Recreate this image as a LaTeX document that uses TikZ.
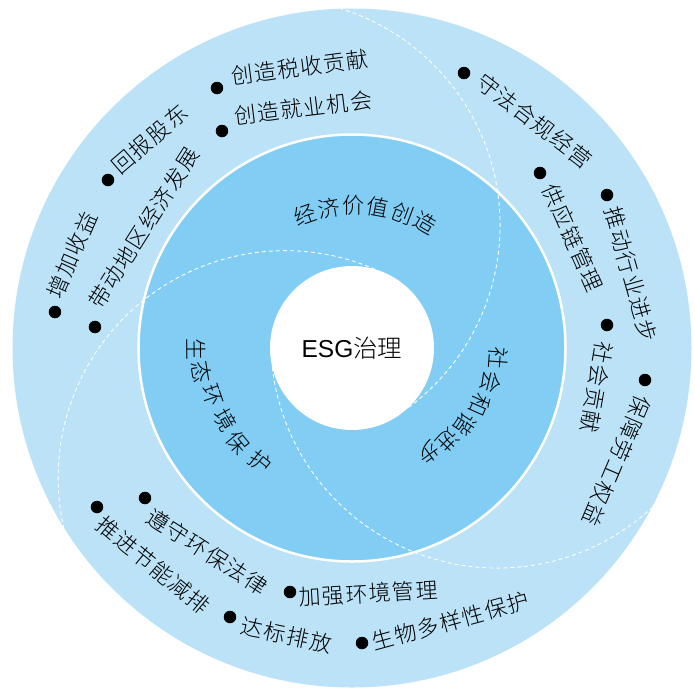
\documentclass[tikz,border=0pt]{standalone}
\usepackage{fontspec}
\setmainfont{Noto Sans CJK SC}[UprightFont=* Light]
\newfontfamily\cjkspaced{Noto Sans CJK SC}[UprightFont=* Light, LetterSpace=6]
\newfontfamily\latinfont{Liberation Sans}
\definecolor{ringout}{RGB}{187,226,247}
\definecolor{ringmid}{RGB}{129,205,244}

\begin{document}
\begin{tikzpicture}[x=1pt, y=1pt,
   point/.style={circle, fill=black, minimum size=12.5pt, inner sep=0pt},
   item/.style={font=\cjkspaced\fontsize{22}{26}\selectfont, inner sep=0pt, anchor=west},
   ringchar/.style={font=\fontsize{22}{26}\selectfont, inner sep=0pt},
   swirl/.style={white, dash pattern=on 4pt off 3pt, line width=0.9pt}]
   \useasboundingbox (-352,-341) rectangle (343,348);
   % rings
   \node[circle, fill=ringout, minimum size=679pt] (outer) at (0,0) {};
   \node[circle, draw=white, line width=2.5pt, fill=ringmid, minimum size=427pt] (middle) at (0,0) {};
   \draw[swirl] (193.5:82pt) arc[start angle=186.6, end angle=312.7, radius=227pt];
   \draw[swirl] (313.5:82pt) arc[start angle=306.6, end angle=432.7, radius=227pt];
   \draw[swirl] (73.5:82pt) arc[start angle=66.6, end angle=192.7, radius=227pt];
   \node[circle, fill=white, minimum size=164pt, font=\fontsize{24.5}{28}\selectfont] (core) at (0,0) {{\latinfont ESG}治理};
   % middle ring
   \node[ringchar, rotate=19.5] (econ1) at (109.5:141pt) {经};
   \node[ringchar, rotate=9.5] (econ2) at (99.5:142pt) {济};
   \node[ringchar, rotate=-0.5] (econ3) at (89.5:143pt) {价};
   \node[ringchar, rotate=-10.5] (econ4) at (79.5:143pt) {值};
   \node[ringchar, rotate=-20.5] (econ5) at (69.5:144pt) {创};
   \node[ringchar, rotate=-30.5] (econ6) at (59.5:145pt) {造};
   \node[ringchar, rotate=-94] (soc1) at (-4:146.5pt) {社};
   \node[ringchar, rotate=-104] (soc2) at (-14:143.2pt) {会};
   \node[ringchar, rotate=-114] (soc3) at (-24:139.9pt) {和};
   \node[ringchar, rotate=-124] (soc4) at (-34:136.6pt) {谐};
   \node[ringchar, rotate=-134] (soc5) at (-44:133.3pt) {进};
   \node[ringchar, rotate=-144] (soc6) at (-54:130pt) {步};
   \node[ringchar, rotate=-89.5] (env1) at (180.5:156pt) {生};
   \node[ringchar, rotate=-81] (env2) at (189:152pt) {态};
   \node[ringchar, rotate=-71.4] (env3) at (198.6:147.5pt) {环};
   \node[ringchar, rotate=-60.4] (env4) at (209.6:146pt) {境};
   \node[ringchar, rotate=-50.2] (env5) at (219.8:148pt) {保};
   \node[ringchar, rotate=-38.9] (env6) at (231.1:146.5pt) {护};
   % outer ring
   \node[point] (b_tax) at (-135,260) {};
   \node[item, rotate=7.4] (tax) at (-120.9,271.6) {创造税收贡献};
   \node[point] (b_jobs) at (-130,217) {};
   \node[item, rotate=7] (jobs) at (-117.9,231.7) {创造就业机会};
   \node[point] (b_holders) at (-244,168) {};
   \node[item, rotate=40.7] (holders) at (-237.3,178.8) {回报股东};
   \node[point] (b_region) at (-257,21) {};
   \node[item, rotate=57.6] (region) at (-257.9,41.7) {带动地区经济发展};
   \node[point] (b_income) at (-297,36) {};
   \node[item, rotate=66.5] (income) at (-298.4,50.9) {增加收益};
   \node[point] (b_comply) at (112,275) {};
   \node[item, rotate=-37.5] (comply) at (127.3,269.7) {守法合规经营};
   \node[point] (b_supply) at (188,175) {};
   \node[item, rotate=-66.1] (supply) at (197.5,163.1) {供应链管理};
   \node[point] (b_industry) at (255,153) {};
   \node[item, rotate=-74.2] (industry) at (260,140.6) {推动行业进步};
   \node[point] (b_society) at (255,23) {};
   \node[item, rotate=-100] (society) at (252.9,5.8) {社会贡献};
   \node[point] (b_labour) at (293,-32) {};
   \node[item, rotate=-113.1] (labour) at (292.3,-48.9) {保障劳工权益};
   \node[point] (b_law) at (-207,-150) {};
   \node[item, rotate=-32.8] (law) at (-203.3,-166) {遵守环保法律};
   \node[point] (b_energy) at (-255,-159) {};
   \node[item, rotate=-39.6] (energy) at (-252.5,-173) {推进节能减排};
   \node[point] (b_manage) at (-62,-244) {};
   \node[item, rotate=3.4] (manage) at (-53,-249.6) {加强环境管理};
   \node[point] (b_emit) at (-122,-269) {};
   \node[item, rotate=-12] (emit) at (-110.8,-277.7) {达标排放};
   \node[point] (b_bio) at (10,-295) {};
   \node[item, rotate=15.4] (bio) at (20.4,-294.9) {生物多样性保护};
\end{tikzpicture}
\end{document}
